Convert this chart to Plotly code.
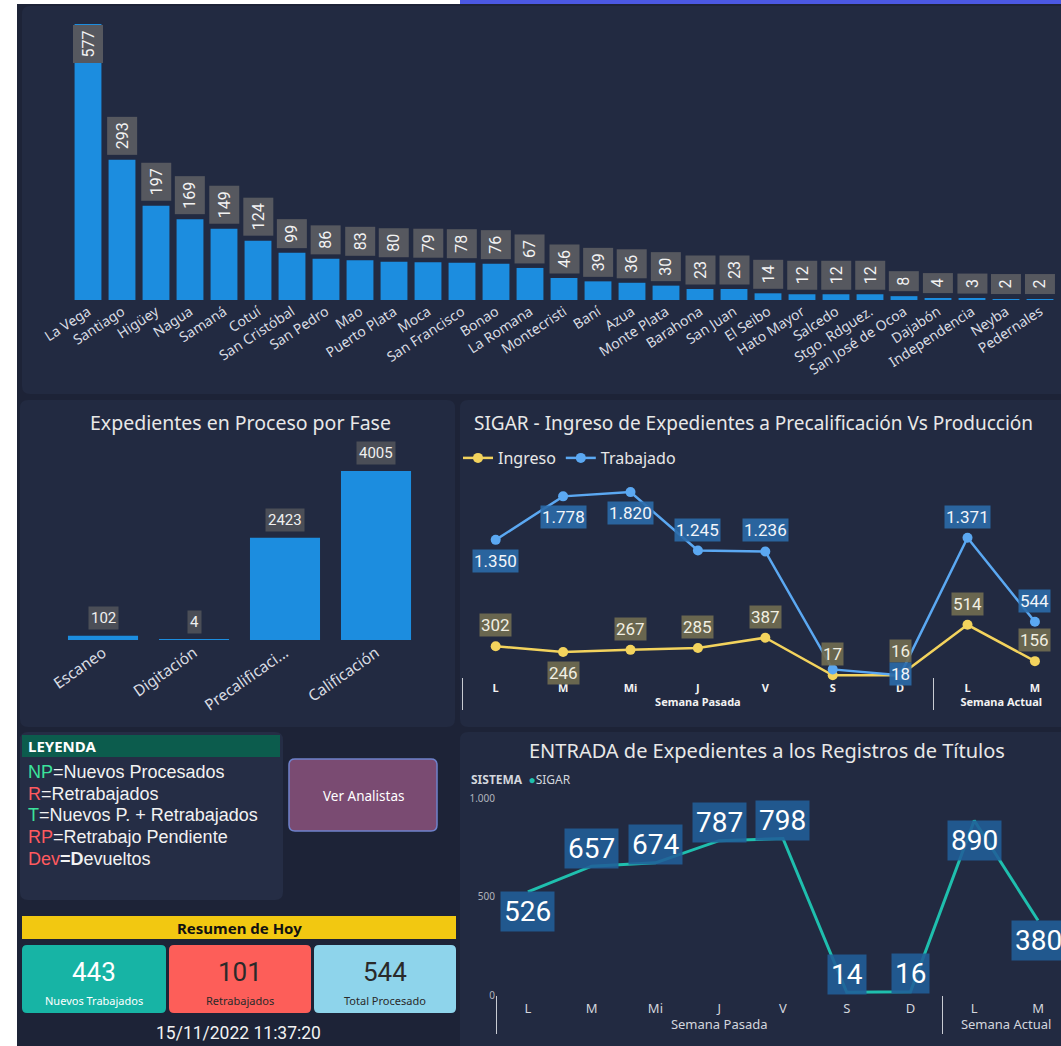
import plotly.graph_objects as go

W, H = 1061, 1046

# ---------------- data ----------------
oficinas = ["La Vega", "Santiago", "Higüey", "Nagua", "Samaná", "Cotuí", "San Cristóbal",
            "San Pedro", "Mao", "Puerto Plata", "Moca", "San Francisco", "Bonao", "La Romana",
            "Montecristi", "Baní", "Azua", "Monte Plata", "Barahona", "San Juan", "El Seibo",
            "Hato Mayor", "Salcedo", "Stgo. Rdguez.", "San José de Ocoa", "Dajabón",
            "Independencia", "Neyba", "Pedernales"]
oficinas_valores = [577, 293, 197, 169, 149, 124, 99, 86, 83, 80, 79, 78, 76, 67, 46, 39, 36,
                    30, 23, 23, 14, 12, 12, 12, 8, 4, 3, 2, 2]

fases = ["Escaneo", "Digitación", "Precalificación", "Calificación"]
fases_etiquetas = ["Escaneo", "Digitación", "Precalificaci...", "Calificación"]
fases_valores = [102, 4, 2423, 4005]

dias = ["L", "M", "Mi", "J", "V", "S", "D", "L", "M"]
semanas = ["Semana Pasada"] * 7 + ["Semana Actual"] * 2
ingreso = [302, 246, 267, 285, 387, 17, 16, 514, 156]
trabajado = [1350, 1778, 1820, 1245, 1236, 75, 18, 1371, 544]
trabajado_visible = [True, True, True, True, True, False, True, True, True]
ingreso_pos = ["above", "below", "above", "above", "above", "above", "high", "above", "above"]
trabajado_pos = ["below", "below", "below", "above", "above", "center", "center", "above", "above"]

entrada_sigar = [526, 657, 674, 787, 798, 14, 16, 890, 380]
entrada_pos = ["below", "above", "above", "above", "above", "above", "above", "below", "below"]

resumen_titulos = ["Nuevos Trabajados", "Retrabajados", "Total Procesado"]
resumen_valores = [443, 101, 544]
fecha_hora = "15/11/2022 11:37:20"

leyenda = [("NP", "#3be39c", "=Nuevos Procesados"),
           ("R", "#ff5a5f", "=Retrabajados"),
           ("T", "#3be39c", "=Nuevos P. + Retrabajados"),
           ("RP", "#ff5a5f", "=Retrabajo Pendiente"),
           ("Dev", "#ff5a5f", "<b>=D</b>evueltos")]

# ---------------- helpers ----------------
def X(p):
    return p / W


def Y(p):
    return 1 - p / H


def fmt(v):
    return f"{v:,}".replace(",", ".")


def rrect(x0, y0, x1, y1, r, fill, line=None, lw=0, layer="below"):
    path = (f"M {X(x0 + r)},{Y(y0)} L {X(x1 - r)},{Y(y0)} Q {X(x1)},{Y(y0)} {X(x1)},{Y(y0 + r)} "
            f"L {X(x1)},{Y(y1 - r)} Q {X(x1)},{Y(y1)} {X(x1 - r)},{Y(y1)} "
            f"L {X(x0 + r)},{Y(y1)} Q {X(x0)},{Y(y1)} {X(x0)},{Y(y1 - r)} "
            f"L {X(x0)},{Y(y0 + r)} Q {X(x0)},{Y(y0)} {X(x0 + r)},{Y(y0)} Z")
    return dict(type="path", xref="paper", yref="paper", path=path, fillcolor=fill,
                line=dict(color=line or fill, width=lw), layer=layer)


def rect(x0, y0, x1, y1, fill, layer="below"):
    return dict(type="rect", xref="paper", yref="paper", x0=X(x0), x1=X(x1), y0=Y(y1), y1=Y(y0),
                fillcolor=fill, line=dict(width=0), layer=layer)


def txt(x, y, text, size, color="#e8e8e8", xanchor="center", family="Noto Sans", weight=None):
    f = dict(size=size, color=color, family=family)
    if weight:
        f["weight"] = weight
    return dict(xref="paper", yref="paper", x=X(x), y=Y(y), text=text, showarrow=False,
                xanchor=xanchor, yanchor="middle", font=f)


BG = "#1d2337"
PANEL = "#222a41"
LABEL_FONT = "Roboto"

fig = go.Figure()

# ---------------- traces ----------------
fig.add_trace(go.Bar(x=oficinas, y=oficinas_valores, xaxis="x", yaxis="y", width=0.79,
                     marker=dict(color="#1c8ddf", line=dict(width=0)), showlegend=False,
                     hoverinfo="skip"))
fig.add_trace(go.Bar(x=fases, y=fases_valores, xaxis="x2", yaxis="y2", width=0.77,
                     marker=dict(color="#1c8ddf", line=dict(width=0)), showlegend=False,
                     hoverinfo="skip"))
fig.add_trace(go.Scatter(x=[semanas, dias], y=ingreso, xaxis="x3", yaxis="y3", name="Ingreso",
                         mode="lines+markers", line=dict(color="#f3d35d", width=2.5),
                         marker=dict(size=10, color="#f3d35d"), cliponaxis=False,
                         hoverinfo="skip"))
fig.add_trace(go.Scatter(x=[semanas, dias], y=trabajado, xaxis="x3", yaxis="y3", name="Trabajado",
                         mode="lines+markers", line=dict(color="#5ba8f2", width=2.5),
                         marker=dict(size=10, color="#5ba8f2"), cliponaxis=False,
                         hoverinfo="skip"))
fig.add_trace(go.Scatter(x=[semanas, dias], y=entrada_sigar, xaxis="x4", yaxis="y4", name="SIGAR",
                         mode="lines", line=dict(color="#1fbfae", width=3), cliponaxis=False,
                         showlegend=False, hoverinfo="skip"))

annotations = []

# top bar labels
ymax_top = 600
for i, v in enumerate(oficinas_valores):
    inside = v / ymax_top > 0.9
    annotations.append(dict(xref="x", yref="y", x=i, y=v, text=str(v), textangle=-90,
                            showarrow=False, xanchor="center",
                            yanchor="top" if inside else "bottom",
                            yshift=-1 if inside else 4,
                            bgcolor="#56585f", borderpad=5,
                            font=dict(size=16, color="#f2f2f2", family=LABEL_FONT)))

# phase labels
for i, v in enumerate(fases_valores):
    annotations.append(dict(xref="x2", yref="y2", x=i, y=v, text=str(v), showarrow=False,
                            xanchor="center", yanchor="bottom", yshift=6,
                            bgcolor="#4b4e57", borderpad=2,
                            font=dict(size=15, color="#f0f0f0", family=LABEL_FONT)))

shift = {"above": 21, "high": 24, "below": -21, "center": 1}
for i, v in enumerate(ingreso):
    annotations.append(dict(xref="x3", yref="y3", x=i, y=v, text=fmt(v), showarrow=False,
                            xanchor="center", yanchor="middle", yshift=shift[ingreso_pos[i]],
                            bgcolor="rgba(112,107,80,0.92)", borderpad=1,
                            font=dict(size=17, color="#f1efe2", family=LABEL_FONT)))
for i, v in enumerate(trabajado):
    if not trabajado_visible[i]:
        continue
    annotations.append(dict(xref="x3", yref="y3", x=i, y=v, text=fmt(v), showarrow=False,
                            xanchor="center", yanchor="middle", yshift=shift[trabajado_pos[i]],
                            bgcolor="rgba(43,106,168,0.9)", borderpad=1,
                            font=dict(size=17, color="#f2f5fa", family=LABEL_FONT)))

shift4 = {"above": 18, "below": -20}
for i, v in enumerate(entrada_sigar):
    annotations.append(dict(xref="x4", yref="y4", x=i, y=v, text=fmt(v), showarrow=False,
                            xanchor="center", yanchor="middle", yshift=shift4[entrada_pos[i]],
                            bgcolor="rgba(33,94,152,0.88)", borderpad=3,
                            font=dict(size=28, color="#ffffff", family=LABEL_FONT)))

# titles
annotations.append(txt(240, 423, "Expedientes en Proceso por Fase", 19.5))
annotations.append(txt(472, 423, "SIGAR - Ingreso de Expedientes a Precalificación Vs Producción", 19,
                       xanchor="left"))
annotations.append(txt(767, 750, "ENTRADA de Expedientes a los Registros de Títulos", 20))
annotations.append(txt(469, 779, "<b>SISTEMA</b>  <span style='color:#1fbfae'>●</span>SIGAR", 12,
                       color="#d3d6dd", xanchor="left"))

# leyenda
annotations.append(txt(26, 746, "<b>LEYENDA</b>", 15, color="#ffffff", xanchor="left"))
for k, (code, col, rest) in enumerate(leyenda):
    annotations.append(txt(26, 772 + k * 21.7, f"<span style='color:{col}'>{code}</span>{rest}", 18,
                           color="#f2f2f2", xanchor="left", family="Liberation Sans"))

annotations.append(txt(363, 796, "Ver Analistas", 13.5, color="#ffffff"))
annotations.append(txt(239, 928, "<b>Resumen de Hoy</b>", 15, color="#111111"))

card_x = [(22, 166), (169, 311), (314, 456)]
card_fill = ["#17b4a5", "#fd5e59", "#8ed4eb"]
card_txt = ["#ffffff", "#2a2a2a", "#2a2a2a"]
for (x0, x1), t, v, tc in zip(card_x, resumen_titulos, resumen_valores, card_txt):
    cx = (x0 + x1) / 2
    annotations.append(txt(cx, 972, str(v), 26, color=tc, family=LABEL_FONT))
    annotations.append(txt(cx, 1000, t, 11, color=tc))
annotations.append(txt(238, 1033, fecha_hora, 17.5, color="#f2f2f2", family=LABEL_FONT))

# ---------------- shapes ----------------
shapes = [
    rrect(22, 6, 1075, 394, 8, PANEL),
    rrect(20, 400, 455, 727, 8, PANEL),
    rrect(460, 400, 1075, 727, 8, PANEL),
    rrect(460, 732, 1075, 1060, 8, PANEL),
    rrect(20, 732, 283, 900, 8, "#252d45"),
    rect(22, 735, 280, 757, "#0c5c4d"),
    rrect(289, 759, 437, 831, 6, "#7a4b72", line="#6f82cc", lw=1.5),
    rect(22, 916, 456, 939, "#f2c811"),
    rect(0, 0, 17, H, "#ffffff", layer="above"),
    rect(0, 0, 460, 4, "#ffffff", layer="above"),
    rect(460, 0, W, 4, "#4b58e3", layer="above"),
]
for (x0, x1), c in zip(card_x, card_fill):
    shapes.append(rrect(x0, 945, x1, 1013, 5, c))

axis_off = dict(showgrid=False, zeroline=False, showline=False, ticks="", automargin=False)

fig.update_layout(
    width=W, height=H, margin=dict(l=0, r=0, t=0, b=0, pad=0), autosize=False,
    paper_bgcolor=BG, plot_bgcolor="rgba(0,0,0,0)",
    separators=",.",
    font=dict(family="Noto Sans", color="#e8e8e8"),
    xaxis=dict(domain=[X(71), X(1057)], anchor="y", range=[-0.5, 28.5], tickangle=-33,
               tickmode="array", tickvals=oficinas, ticktext=oficinas,
               tickfont=dict(size=14, color="#d9dce3", family="Noto Sans"), **axis_off),
    yaxis=dict(domain=[Y(300), Y(13)], anchor="x", range=[0, ymax_top], visible=False,
               automargin=False),
    xaxis2=dict(domain=[X(57.5), X(421.5)], anchor="y2", range=[-0.5, 3.5], tickangle=-35,
                tickmode="array", tickvals=fases, ticktext=fases_etiquetas,
                tickfont=dict(size=15.5, color="#d9dce3", family="Noto Sans"), **axis_off),
    yaxis2=dict(domain=[Y(640), Y(460)], anchor="x2", range=[0, 4265], visible=False,
                automargin=False),
    xaxis3=dict(domain=[X(462), 1], anchor="y3", type="multicategory", range=[-0.5, 8.387],
                tickfont=dict(size=11, color="#f2f2f2", family="Noto Sans", weight="bold"),
                ticklabelstandoff=3,
                showdividers=True, dividercolor="#c9ccd3", dividerwidth=1, **axis_off),
    yaxis3=dict(domain=[Y(677), Y(480)], anchor="x3", range=[0, 1939], visible=False,
                automargin=False),
    xaxis4=dict(domain=[X(496), 1], anchor="y4", type="multicategory", range=[-0.5, 8.36],
                tickfont=dict(size=13, color="#d3d6dd", family="Noto Sans"),
                ticklabelstandoff=4,
                showdividers=True, dividercolor="#c9ccd3", dividerwidth=1, **axis_off),
    yaxis4=dict(domain=[Y(995), Y(785)], anchor="x4", range=[0, 1071], tickmode="array",
                tickvals=[0, 500, 1000], tickformat=",d", showgrid=False, zeroline=False,
                showline=False, ticks="", automargin=False,
                tickfont=dict(size=10, color="#b0b4bd")),
    legend=dict(x=X(458), y=Y(441), xanchor="left", yanchor="top", orientation="h",
                font=dict(size=16, color="#e8e8e8", family="Noto Sans"),
                bgcolor="rgba(0,0,0,0)", itemwidth=30, tracegroupgap=0),
    shapes=shapes,
    annotations=annotations,
)

fig.write_html("out.html", config={"displayModeBar": False},
               post_script="document.body.style.margin='0';document.body.style.overflow='hidden';")
